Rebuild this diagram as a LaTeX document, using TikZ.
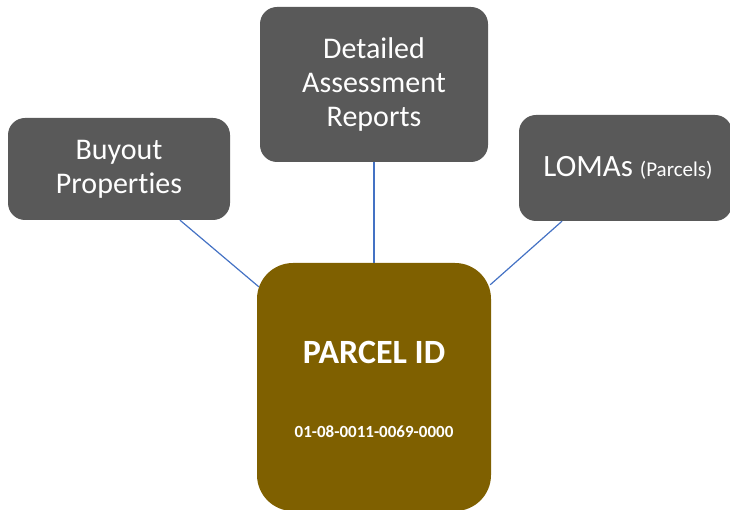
\documentclass[tikz,border=0pt]{standalone}
\usepackage{fontspec}
\setmainfont{Carlito}[Ligatures=NoCommon]
\usetikzlibrary{calc}
\definecolor{boxgray}{HTML}{595959}
\definecolor{boxbrown}{HTML}{7F6000}
\definecolor{linkblue}{HTML}{4472C4}
\tikzset{
  graybox/.style={rectangle, rounded corners=17pt, fill=boxgray, draw=none, text=white, align=center, font=\fontsize{30}{34}\selectfont, inner sep=0pt},
  brownbox/.style={rectangle, rounded corners=36pt, fill=boxbrown, draw=none, text=white, inner sep=0pt, minimum width=234pt, minimum height=248pt},
  link/.style={draw=linkblue, line width=1.2pt}
}
\begin{document}
\begin{tikzpicture}[x=1pt,y=1pt]
\useasboundingbox (0,0) rectangle (730,509);
\node[graybox, minimum width=222pt, minimum height=102pt] (buy) at (119,340) {Buyout\\Properties};
\node[graybox, minimum width=228pt, minimum height=155pt] (det) at (374,424.5) {Detailed\\Assessment\\Reports};
\node[graybox, minimum width=213pt, minimum height=106pt] (lom) at (625.5,341) {};
\node[text=white, inner sep=0pt, font=\fontsize{31}{34}\selectfont] (lomt) at (628,341) {LOMAs {\fontsize{21}{24}\selectfont (Parcels)}};
\node[brownbox] (par) at (374,122) {};
\node[text=white, font=\fontsize{34}{38}\selectfont\bfseries] (pid) at (374,157) {PARCEL ID};
\node[text=white, font=\fontsize{17}{20}\selectfont\bfseries] (pnum) at (374,77) {01-08-0011-0069-0000};
\draw[link] ([xshift=61pt]buy.south) -- ($(par.north west)+(2,-24)$);
\draw[link] (det.south) -- (par.north);
\draw[link] ([xshift=-63.5pt]lom.south) -- ($(par.north east)+(-1,-22)$);
\end{tikzpicture}
\end{document}
